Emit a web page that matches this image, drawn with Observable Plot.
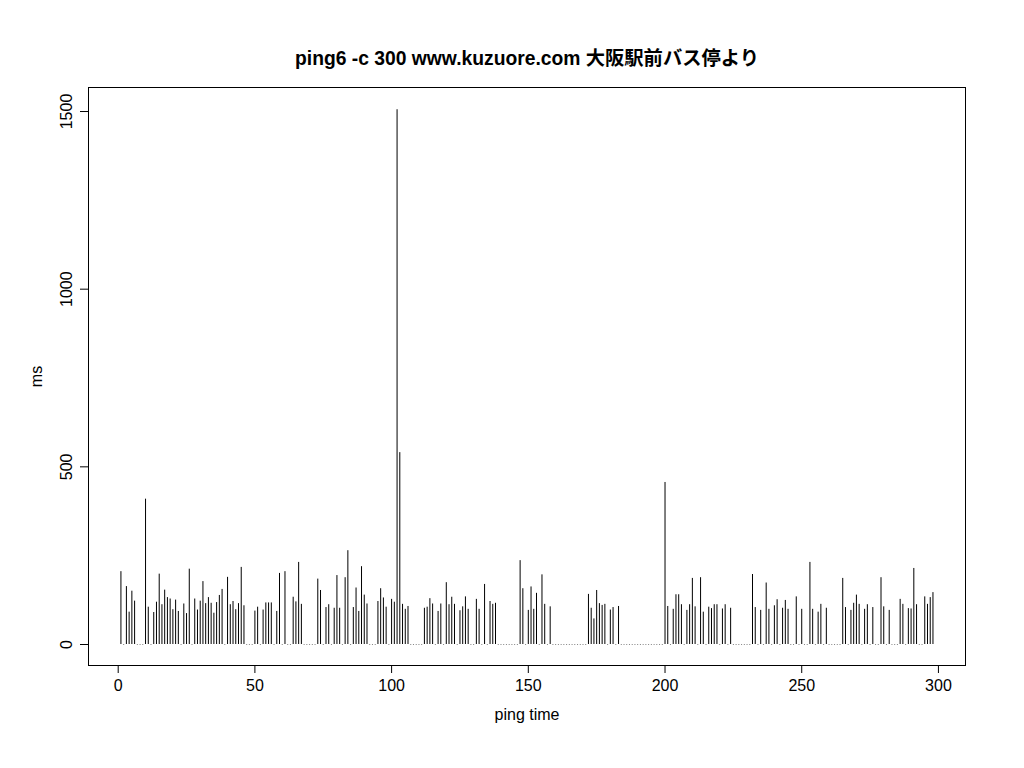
<!DOCTYPE html>
<html><head><meta charset="utf-8">
<script src="https://cdn.jsdelivr.net/npm/d3@7"></script>
<script src="https://cdn.jsdelivr.net/npm/@observablehq/plot@0.6"></script>
<style>body{margin:0;background:#fff} svg{display:block}</style>
</head><body><div id="chart"></div>
<script>
const titleText = "ping6 -c 300 www.kuzuore.com 大阪駅前バス停より";
const xLabel = "ping time";
const yLabel = "ms";
const xTicks = [0, 50, 100, 150, 200, 250, 300];
const yTicks = [0, 500, 1000, 1500];
// round-trip time (ms) for each ping, index 1..298; 0 = no reply
const pingMs = [
  205, 0, 163, 91, 150, 122, 0, 0, 0, 409,
  105, 0, 90, 119, 198, 112, 153, 132, 128, 98,
  125, 93, 0, 114, 87, 212, 0, 128, 97, 122,
  177, 115, 132, 116, 88, 118, 138, 155, 0, 189,
  112, 121, 98, 115, 217, 109, 0, 0, 0, 94,
  105, 0, 97, 117, 117, 117, 0, 93, 200, 0,
  205, 0, 0, 133, 120, 231, 113, 0, 0, 0,
  0, 0, 184, 152, 0, 104, 112, 0, 102, 194,
  102, 0, 188, 264, 0, 104, 159, 93, 219, 139,
  114, 0, 0, 0, 121, 157, 131, 105, 0, 127,
  119, 1505, 540, 113, 99, 107, 0, 0, 0, 0,
  0, 102, 105, 129, 114, 0, 93, 114, 0, 174,
  112, 133, 113, 0, 95, 106, 134, 99, 0, 0,
  127, 99, 0, 169, 0, 121, 113, 116, 0, 0,
  0, 0, 0, 0, 0, 0, 236, 157, 0, 96,
  162, 99, 144, 0, 196, 113, 0, 106, 0, 0,
  0, 0, 0, 0, 0, 0, 0, 0, 0, 0,
  0, 141, 102, 72, 152, 115, 110, 113, 0, 97,
  104, 0, 107, 0, 0, 0, 0, 0, 0, 0,
  0, 0, 0, 0, 0, 0, 0, 0, 0, 456,
  107, 0, 99, 140, 140, 112, 0, 96, 112, 186,
  106, 0, 188, 91, 0, 105, 101, 112, 112, 0,
  100, 112, 0, 102, 0, 0, 0, 0, 0, 0,
  0, 197, 104, 0, 96, 0, 173, 99, 0, 109,
  126, 0, 102, 124, 99, 0, 0, 134, 0, 99,
  0, 0, 231, 99, 0, 91, 113, 0, 102, 0,
  0, 0, 0, 0, 186, 104, 0, 96, 116, 139,
  113, 0, 99, 112, 0, 104, 0, 0, 188, 106,
  0, 96, 0, 0, 0, 127, 113, 0, 101, 100,
  214, 112, 0, 0, 134, 113, 132, 146
];
const data = pingMs.map((v, i) => ({t: i + 1, ms: v}));
const font = "'Liberation Sans', Arial, 'Noto Sans CJK JP', sans-serif";
const chart = Plot.plot({
  width: 1024, height: 768,
  marginLeft: 88, marginRight: 59, marginTop: 87, marginBottom: 103,
  style: {fontFamily: font, fontSize: "16px", background: "white", color: "black"},
  x: {domain: [-10.86, 309.9]},
  y: {domain: [-59.1, 1567.6]},
  marks: [
    Plot.frame({stroke: "#000"}),
    Plot.ruleX(data.filter(d => d.ms > 0), {x: "t", y1: 0, y2: "ms", stroke: "#000", strokeWidth: 1}),
    Plot.dot(data.filter(d => d.ms === 0), {x: "t", y: 0, r: 0.6, fill: "#777", stroke: null}),
    Plot.axisX({ticks: xTicks, tickSize: 8, tickPadding: 6, fontSize: 16, tickFormat: d => String(d),
      label: xLabel, labelAnchor: "center", labelArrow: "none", labelOffset: 54}),
    Plot.axisY({ticks: yTicks, tickSize: 8, tickPadding: 9, tickRotate: -90, fontSize: 16, tickFormat: d => String(d),
      label: yLabel, labelAnchor: "center", labelArrow: "none", labelOffset: 58}),
    Plot.text([titleText], {text: d => d, frameAnchor: "top", lineAnchor: "middle", dy: -29,
      fontSize: 19.3, fontWeight: "bold"})
  ]
});
document.getElementById("chart").appendChild(chart);
</script>
</body></html>
